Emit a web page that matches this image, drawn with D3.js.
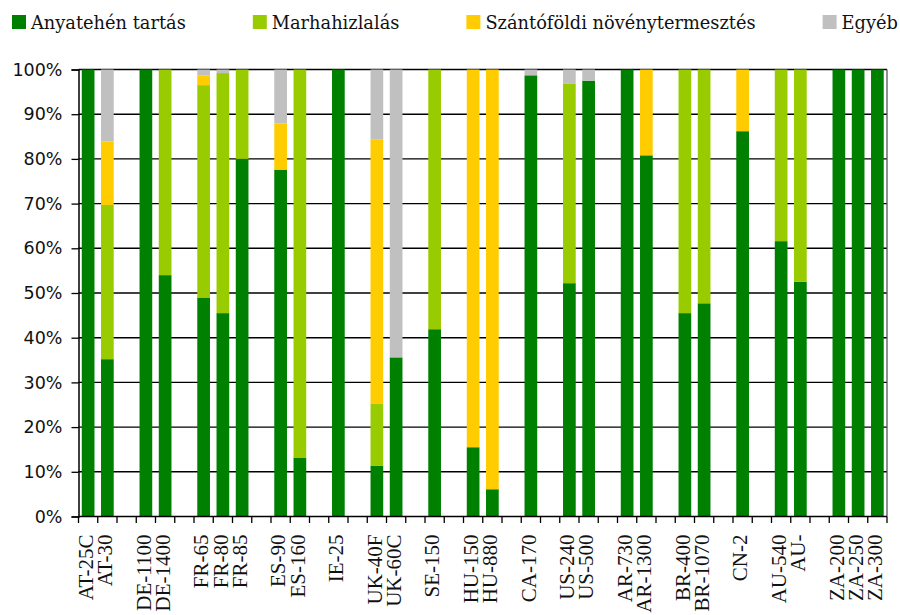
<!doctype html>
<html lang="hu">
<head>
<meta charset="utf-8">
<title>Anyatehén tartás – termelési szerkezet</title>
<script src="https://cdn.jsdelivr.net/npm/d3@7"></script>
<style>
  html, body { margin: 0; padding: 0; background: #fff; }
  svg { display: block; }
  .legend text { font-family: "DejaVu Serif", serif; font-size: 17.8px; fill: #111; }
  .yaxis text { font-family: "DejaVu Sans", sans-serif; font-size: 17.5px; fill: #111; }
  .xaxis text { font-family: "Liberation Serif", serif; font-size: 21px; fill: #111; }
</style>
</head>
<body>
<svg id="chart" width="900" height="615"></svg>
<script>
// categories ("" = empty slot between country groups)
const categories = [
  "AT-25C", "AT-30", "",
  "DE-1100", "DE-1400", "",
  "FR-65", "FR-80", "FR-85", "",
  "ES-90", "ES-160", "",
  "IE-25", "",
  "UK-40F", "UK-60C", "",
  "SE-150", "",
  "HU-150", "HU-880", "",
  "CA-170", "",
  "US-240", "US-500", "",
  "AR-730", "AR-1300", "",
  "BR-400", "BR-1070", "",
  "CN-2", "",
  "AU-540", "AU-", "",
  "ZA-200", "ZA-250", "ZA-300"
];

const seriesNames = ["Anyatehén tartás", "Marhahizlalás", "Szántóföldi növénytermesztés", "Egyéb"];
const seriesColors = ["#008000", "#99cc00", "#ffcc00", "#c0c0c0"];

// shares in %, one value per category slot
const anyatehen = [100, 35.2, 0, 100, 54, 0, 49, 45.5, 80, 0, 77.6, 13.2, 0, 100, 0,
  11.4, 35.6, 0, 41.9, 0, 15.5, 6.1, 0, 98.7, 0, 52.2, 97.5, 0, 100, 80.8, 0,
  45.5, 47.7, 0, 86.2, 0, 61.6, 52.5, 0, 100, 100, 100];
const marhahizlalas = [0, 34.5, 0, 0, 46, 0, 47.5, 53.7, 20, 0, 0, 86.8, 0, 0, 0,
  13.9, 0, 0, 58.1, 0, 0, 0, 0, 0, 0, 44.7, 0, 0, 0, 0, 0,
  54.5, 52.3, 0, 0, 0, 38.4, 47.5, 0, 0, 0, 0];
const szantofoldi = [0, 14.2, 0, 0, 0, 0, 2.2, 0, 0, 0, 10.3, 0, 0, 0, 0,
  59.1, 0, 0, 0, 0, 84.5, 93.9, 0, 0, 0, 0, 0, 0, 0, 19.2, 0,
  0, 0, 0, 13.8, 0, 0, 0, 0, 0, 0, 0];
const egyeb = [0, 16.1, 0, 0, 0, 0, 1.3, 0.8, 0, 0, 12.1, 0, 0, 0, 0,
  15.6, 64.4, 0, 0, 0, 0, 0, 0, 1.3, 0, 3.1, 2.5, 0, 0, 0, 0,
  0, 0, 0, 0, 0, 0, 0, 0, 0, 0, 0];

const yTicks = [0, 10, 20, 30, 40, 50, 60, 70, 80, 90, 100];

const svg = d3.select("#chart");
const margin = { left: 78.5, right: 13, top: 69.5, bottom: 98.5 };
const W = 900, H = 615;

const x = d3.scaleBand()
  .domain(d3.range(categories.length))
  .range([margin.left, W - margin.right])
  .paddingInner(0)
  .paddingOuter(0);

const y = d3.scaleLinear()
  .domain([0, 100])
  .range([H - margin.bottom, margin.top]);

// table for the stack
const rows = categories.map((c, i) => ({
  i: i, cat: c,
  s0: anyatehen[i], s1: marhahizlalas[i], s2: szantofoldi[i], s3: egyeb[i]
}));
const stacked = d3.stack().keys(["s0", "s1", "s2", "s3"])(rows);

// gridlines
svg.append("g")
  .selectAll("line")
  .data(yTicks.filter(d => d > 0))
  .join("line")
  .attr("x1", margin.left).attr("x2", W - margin.right)
  .attr("y1", d => y(d)).attr("y2", d => y(d))
  .attr("stroke", "#000").attr("stroke-width", 1.4);

// right border of the plot area
svg.append("line")
  .attr("x1", W - margin.right).attr("x2", W - margin.right)
  .attr("y1", y(100)).attr("y2", y(0))
  .attr("stroke", "#555").attr("stroke-width", 1.3);

// bars
const barW = x.bandwidth() * 0.66;
svg.append("g")
  .selectAll("g")
  .data(stacked)
  .join("g")
  .attr("fill", (d, k) => seriesColors[k])
  .selectAll("rect")
  .data(d => d.filter(p => p[1] - p[0] > 0))
  .join("rect")
  .attr("x", p => x(p.data.i) + (x.bandwidth() - barW) / 2)
  .attr("width", barW)
  .attr("y", p => y(p[1]))
  .attr("height", p => y(p[0]) - y(p[1]));

// y axis
const yAxis = svg.append("g")
  .attr("class", "yaxis")
  .attr("transform", `translate(${margin.left},0)`)
  .call(d3.axisLeft(y).tickValues(yTicks).tickFormat(d => d + "%").tickSize(7).tickPadding(9));
yAxis.select(".domain").attr("stroke", "#000").attr("stroke-width", 1.5);
yAxis.selectAll(".tick line").attr("stroke", "#000").attr("stroke-width", 1.3);

// x axis: line, ticks at slot borders, rotated labels
const xg = svg.append("g").attr("class", "xaxis");
xg.append("line")
  .attr("x1", margin.left).attr("x2", W - margin.right)
  .attr("y1", y(0)).attr("y2", y(0))
  .attr("stroke", "#000").attr("stroke-width", 1.5);
xg.selectAll(".xt")
  .data(d3.range(categories.length + 1))
  .join("line")
  .attr("class", "xt")
  .attr("x1", i => margin.left + i * x.step()).attr("x2", i => margin.left + i * x.step())
  .attr("y1", y(0)).attr("y2", y(0) + 6.5)
  .attr("stroke", "#000").attr("stroke-width", 1.3);
xg.selectAll("text")
  .data(rows.filter(r => r.cat !== ""))
  .join("text")
  .attr("transform", r => `translate(${x(r.i) + x.bandwidth() / 2 - 2.5},${y(0) + 18}) rotate(-90)`)
  .attr("text-anchor", "end")
  .attr("dy", "0.34em")
  .text(r => r.cat);

// legend
const lg = svg.append("g").attr("class", "legend");
let lx = 12;
seriesNames.forEach((name, k) => {
  lg.append("rect")
    .attr("x", lx).attr("y", 15).attr("width", 14).attr("height", 14)
    .attr("fill", seriesColors[k]);
  const t = lg.append("text")
    .attr("x", lx + 19).attr("y", 29)
    .text(name);
  lx += 19 + t.node().getComputedTextLength() + 67;
});
</script>
</body>
</html>
